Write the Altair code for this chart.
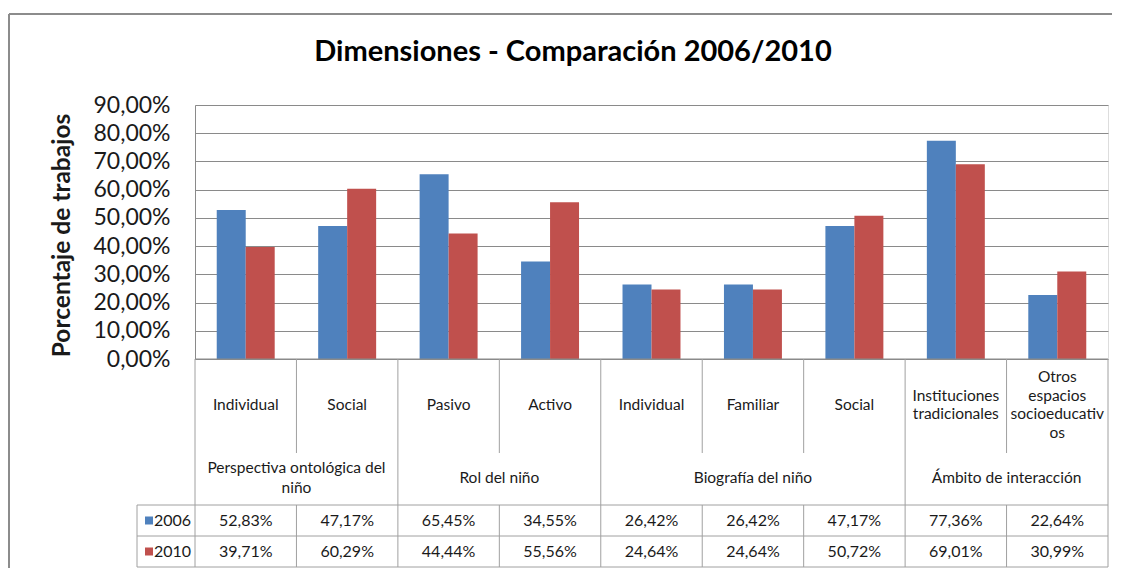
import altair as alt
import pandas as pd

# ---------------- data ----------------
title_text = "Dimensiones - Comparación 2006/2010"
y_title = "Porcentaje de trabajos"
years = ["2006", "2010"]
colors = ["#4F81BD", "#C0504D"]

subcats = ["Individual", "Social", "Pasivo", "Activo", "Individual",
           "Familiar", "Social", "Instituciones tradicionales",
           "Otros espacios socioeducativos"]
groups = ["Perspectiva ontológica del niño", "Rol del niño",
          "Biografía del niño", "Ámbito de interacción"]
group_sizes = [2, 2, 3, 2]
v2006 = [52.83, 47.17, 65.45, 34.55, 26.42, 26.42, 47.17, 77.36, 22.64]
v2010 = [39.71, 60.29, 44.44, 55.56, 24.64, 24.64, 50.72, 69.01, 30.99]
y_ticks = [0, 10, 20, 30, 40, 50, 60, 70, 80, 90]

# how the narrow table cells wrap their text (display only)
wrapped = {
    "Instituciones tradicionales": "Instituciones\ntradicionales",
    "Otros espacios socioeducativos": "Otros\nespacios\nsocioeducativ\nos",
    "Perspectiva ontológica del niño": "Perspectiva ontológica del\nniño",
}

# ---------------- layout (pixels, plot-area coordinates) ----------------
W, H = 913, 254
PAD_L, PAD_T, PAD_R, PAD_B = 187, 97, 4, 209
ROW_LABEL_END = 348      # bottom of sub-category label row
ROW_GROUP_END = 400      # bottom of group label row
ROW_2006_END = 431
ROW_2010_END = 462
SUB_CENTER = 300
GRP_CENTER = 373
SUB_LH = 18.7
GRP_LH = 20
LEG_LEFT = -58
FONT = "Lato"
TXT = "#1a1a1a"
GRID = "#8a8a8a"
LINE = "#a0a0a0"
FRAME = "#8c8c8c"

n = len(subcats)
cids = [f"c{i}" for i in range(n)]

bars = pd.DataFrame({
    "cid": cids * 2,
    "year": [years[0]] * n + [years[1]] * n,
    "value": v2006 + v2010,
})


def block_top(label, center, lh):
    k = label.count("\n")
    return center - k * lh / 2


sub_labels = [wrapped.get(s, s) for s in subcats]
sub_df = pd.DataFrame({
    "pos": [i + 0.5 for i in range(n)],
    "label": sub_labels,
    "ty": [block_top(s, SUB_CENTER, SUB_LH) for s in sub_labels],
})

starts = []
acc = 0
for s in group_sizes:
    starts.append(acc)
    acc += s
grp_labels = [wrapped.get(g, g) for g in groups]
grp_df = pd.DataFrame({
    "pos": [st + sz / 2 for st, sz in zip(starts, group_sizes)],
    "label": grp_labels,
    "ty": [block_top(g, GRP_CENTER, GRP_LH) for g in grp_labels],
})
boundaries = set(starts + [n])

val_df = pd.DataFrame({
    "pos": [i + 0.5 for i in range(n)] * 2,
    "year": [years[0]] * n + [years[1]] * n,
    "txt": [f"{v:.2f}".replace(".", ",") + "%" for v in v2006 + v2010],
})

# vertical table lines
vrows = []
for b in range(n + 1):
    if b in boundaries:
        vrows.append({"pos": b, "y0": H, "y1": ROW_2010_END})
    else:
        vrows.append({"pos": b, "y0": H, "y1": ROW_LABEL_END})
        vrows.append({"pos": b, "y0": ROW_GROUP_END, "y1": ROW_2010_END})
vdf = pd.DataFrame(vrows)
hdf = pd.DataFrame({"y": [ROW_GROUP_END, ROW_2006_END, ROW_2010_END]})

xq = alt.Scale(domain=[0, n], nice=False, zero=False)
year_y = alt.Scale(type="point", domain=years, padding=0,
                   range=[(ROW_GROUP_END + ROW_2006_END) / 2,
                          (ROW_2006_END + ROW_2010_END) / 2])
color_scale = alt.Scale(domain=years, range=colors)

label_expr = "replace(format(datum.value, '.2f'), '.', ',') + '%'"

bar_layer = alt.Chart(bars).mark_bar().encode(
    x=alt.X("cid:N", sort=cids,
            scale=alt.Scale(domain=cids, paddingInner=0, paddingOuter=0),
            axis=None),
    xOffset=alt.XOffset("year:N",
                        scale=alt.Scale(domain=years, paddingInner=0, paddingOuter=0.75)),
    y=alt.Y("value:Q", scale=alt.Scale(domain=[0, 90], nice=False),
            axis=alt.Axis(values=y_ticks, labelExpr=label_expr, grid=True,
                          gridColor=GRID, gridWidth=1, ticks=False,
                          domain=True, domainColor=GRID,
                          labelFont=FONT, labelFontSize=23, labelColor=TXT,
                          labelPadding=25,
                          title=y_title, titleFont=FONT, titleFontSize=24.5,
                          titleFontWeight="bold", titleColor=TXT,
                          titleX=-133, titleY=H / 2 + 3, titleAngle=270,
                          titleAlign="center", titleBaseline="middle")),
    color=alt.Color("year:N", scale=color_scale, legend=None),
)

vlines = alt.Chart(vdf).mark_rule(color=LINE, strokeWidth=1).encode(
    x=alt.X("pos:Q", scale=xq, axis=None),
    y=alt.Y("y0:Q", scale=None),
    y2="y1:Q",
)

axis_line = alt.Chart(pd.DataFrame({"a": [0], "b": [n]})).mark_rule(
    color=GRID, strokeWidth=1).encode(
    x=alt.X("a:Q", scale=xq, axis=None), x2="b:Q", y=alt.value(H))

hlines = alt.Chart(hdf).mark_rule(color=LINE, strokeWidth=1).encode(
    x=alt.value(LEG_LEFT), x2=alt.value(W),
    y=alt.Y("y:Q", scale=None),
)
leg_vline = alt.Chart(pd.DataFrame({"a": [0]})).mark_rule(
    color=LINE, strokeWidth=1).encode(
    x=alt.value(LEG_LEFT), y=alt.value(ROW_GROUP_END), y2=alt.value(ROW_2010_END))

sub_text = alt.Chart(sub_df).mark_text(
    font=FONT, fontSize=15.5, color=TXT, baseline="middle", align="center",
    lineBreak="\n", lineHeight=SUB_LH).encode(
    x=alt.X("pos:Q", scale=xq, axis=None),
    y=alt.Y("ty:Q", scale=None),
    text="label:N",
)

grp_text = alt.Chart(grp_df).mark_text(
    font=FONT, fontSize=15.5, color=TXT, baseline="middle", align="center",
    lineBreak="\n", lineHeight=GRP_LH).encode(
    x=alt.X("pos:Q", scale=xq, axis=None),
    y=alt.Y("ty:Q", scale=None),
    text="label:N",
)

val_text = alt.Chart(val_df).mark_text(
    font=FONT, fontSize=16, color=TXT, baseline="middle", align="center").encode(
    x=alt.X("pos:Q", scale=xq, axis=None),
    y=alt.Y("year:N", scale=year_y, axis=None),
    text="txt:N",
)

leg_df = pd.DataFrame({"year": years})
leg_sw = alt.Chart(leg_df).mark_square(size=64, opacity=1, filled=True).encode(
    x=alt.value(LEG_LEFT + 12),
    y=alt.Y("year:N", scale=year_y, axis=None),
    color=alt.Color("year:N", scale=color_scale, legend=None),
)
leg_tx = alt.Chart(leg_df).mark_text(
    font=FONT, fontSize=16, color=TXT, baseline="middle", align="left").encode(
    x=alt.value(LEG_LEFT + 17),
    y=alt.Y("year:N", scale=year_y, axis=None),
    text="year:N",
)

title_layer = alt.Chart(pd.DataFrame({"t": [title_text]})).mark_text(
    font=FONT, fontSize=29, fontWeight="bold", color="#000",
    baseline="middle", align="center").encode(
    x=alt.value(378), y=alt.value(-53), text="t:N")

# outer chart-area frame: only its top and left edges fall inside the picture
frame_top = alt.Chart(pd.DataFrame({"a": [0]})).mark_rule(
    color=FRAME, strokeWidth=2).encode(
    x=alt.value(-186), x2=alt.value(W + PAD_R), y=alt.value(-91))
frame_left = alt.Chart(pd.DataFrame({"a": [0]})).mark_rule(
    color=FRAME, strokeWidth=2).encode(
    x=alt.value(-186), y=alt.value(-91), y2=alt.value(H + PAD_B))

chart = alt.layer(
    frame_top, frame_left, bar_layer, axis_line, vlines, hlines, leg_vline,
    sub_text, grp_text, val_text, leg_sw, leg_tx, title_layer,
).resolve_scale(
    x="independent", y="independent"
).properties(
    width=W, height=H,
    autosize=alt.AutoSizeParams(type="none"),
    padding={"left": PAD_L, "top": PAD_T, "right": PAD_R, "bottom": PAD_B},
).configure_view(stroke=None).configure(background="white")

chart.save("out.html", embed_options={"renderer": "svg", "actions": False})
